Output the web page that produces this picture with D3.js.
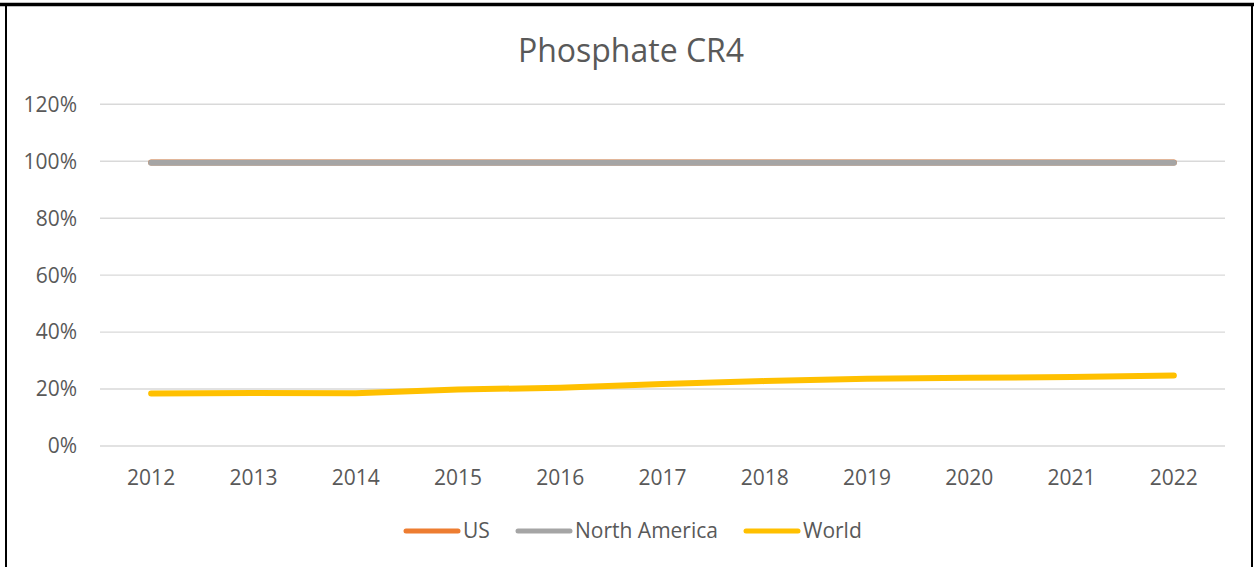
<!DOCTYPE html>
<html>
<head>
<meta charset="utf-8">
<script src="https://cdn.jsdelivr.net/npm/d3@7"></script>
<style>
  body { margin: 0; background: #fff; }
  svg { display: block; }
  text { font-family: "Open Sans", sans-serif; fill: #595959; }
</style>
</head>
<body>
<div class="chart"></div>
<script>
// data
const years = ["2012", "2013", "2014", "2015", "2016", "2017", "2018", "2019", "2020", "2021", "2022"];
const usValues = [99.6, 99.6, 99.6, 99.6, 99.6, 99.6, 99.6, 99.6, 99.6, 99.6, 99.6];
const northAmericaValues = [99.5, 99.5, 99.5, 99.5, 99.5, 99.5, 99.5, 99.5, 99.5, 99.5, 99.5];
const worldValues = [18.4, 18.6, 18.5, 19.8, 20.5, 21.8, 22.8, 23.6, 24.0, 24.2, 24.8];
const yTicks = [0, 20, 40, 60, 80, 100, 120];
const seriesNames = ["US", "North America", "World"];
const seriesColors = ["#ED7D31", "#A5A5A5", "#FFC000"];

const width = 1254, height = 567;

const svg = d3.select(".chart")
  .append("svg")
  .attr("width", width)
  .attr("height", height);

// frame
svg.append("path")
  .attr("d", "M6,600 L6,4.5 L1252,4.5 L1252,600")
  .attr("fill", "none")
  .attr("stroke", "#000")
  .attr("stroke-width", 2);
svg.append("line")
  .attr("x1", 0).attr("x2", width)
  .attr("y1", 4.5).attr("y2", 4.5)
  .attr("stroke", "#000")
  .attr("stroke-width", 3.5);

// title
svg.append("text")
  .attr("x", 631)
  .attr("y", 61.5)
  .attr("text-anchor", "middle")
  .style("font-size", "32px")
  .text("Phosphate CR4");

const x = d3.scaleBand()
  .domain(years)
  .range([100, 1225]);

const y = d3.scaleLinear()
  .domain([0, 120])
  .range([446, 104.3]);

// gridlines
svg.append("g")
  .selectAll("line")
  .data(yTicks)
  .join("line")
  .attr("x1", 100).attr("x2", 1225)
  .attr("y1", d => y(d)).attr("y2", d => y(d))
  .attr("stroke", "#D9D9D9")
  .attr("stroke-width", 1.4);

// y labels
svg.append("g")
  .selectAll("text")
  .data(yTicks)
  .join("text")
  .attr("x", 77)
  .attr("y", d => y(d))
  .attr("dy", "0.35em")
  .attr("text-anchor", "end")
  .style("font-size", "21px")
  .text(d => d + "%");

// x labels
svg.append("g")
  .selectAll("text")
  .data(years)
  .join("text")
  .attr("x", d => x(d) + x.bandwidth() / 2)
  .attr("y", 485)
  .attr("text-anchor", "middle")
  .style("font-size", "21px")
  .text(d => d);

// lines
const line = d3.line()
  .x((d, i) => x(years[i]) + x.bandwidth() / 2)
  .y(d => y(d));

const allSeries = [usValues, northAmericaValues, worldValues];
svg.append("g")
  .selectAll("path")
  .data(allSeries)
  .join("path")
  .attr("d", d => line(d))
  .attr("fill", "none")
  .attr("stroke", (d, i) => seriesColors[i])
  .attr("stroke-width", 6)
  .attr("stroke-linecap", "round")
  .attr("stroke-linejoin", "round");

// legend
const legendX = [404, 516, 744];
const legend = svg.append("g");
seriesNames.forEach((name, i) => {
  legend.append("line")
    .attr("x1", legendX[i] + 2).attr("x2", legendX[i] + 54)
    .attr("y1", 531).attr("y2", 531)
    .attr("stroke", seriesColors[i])
    .attr("stroke-width", 5)
    .attr("stroke-linecap", "round");
  legend.append("text")
    .attr("x", legendX[i] + 59)
    .attr("y", 531)
    .attr("dy", "0.35em")
    .style("font-size", "21px")
    .text(name);
});
</script>
</body>
</html>
